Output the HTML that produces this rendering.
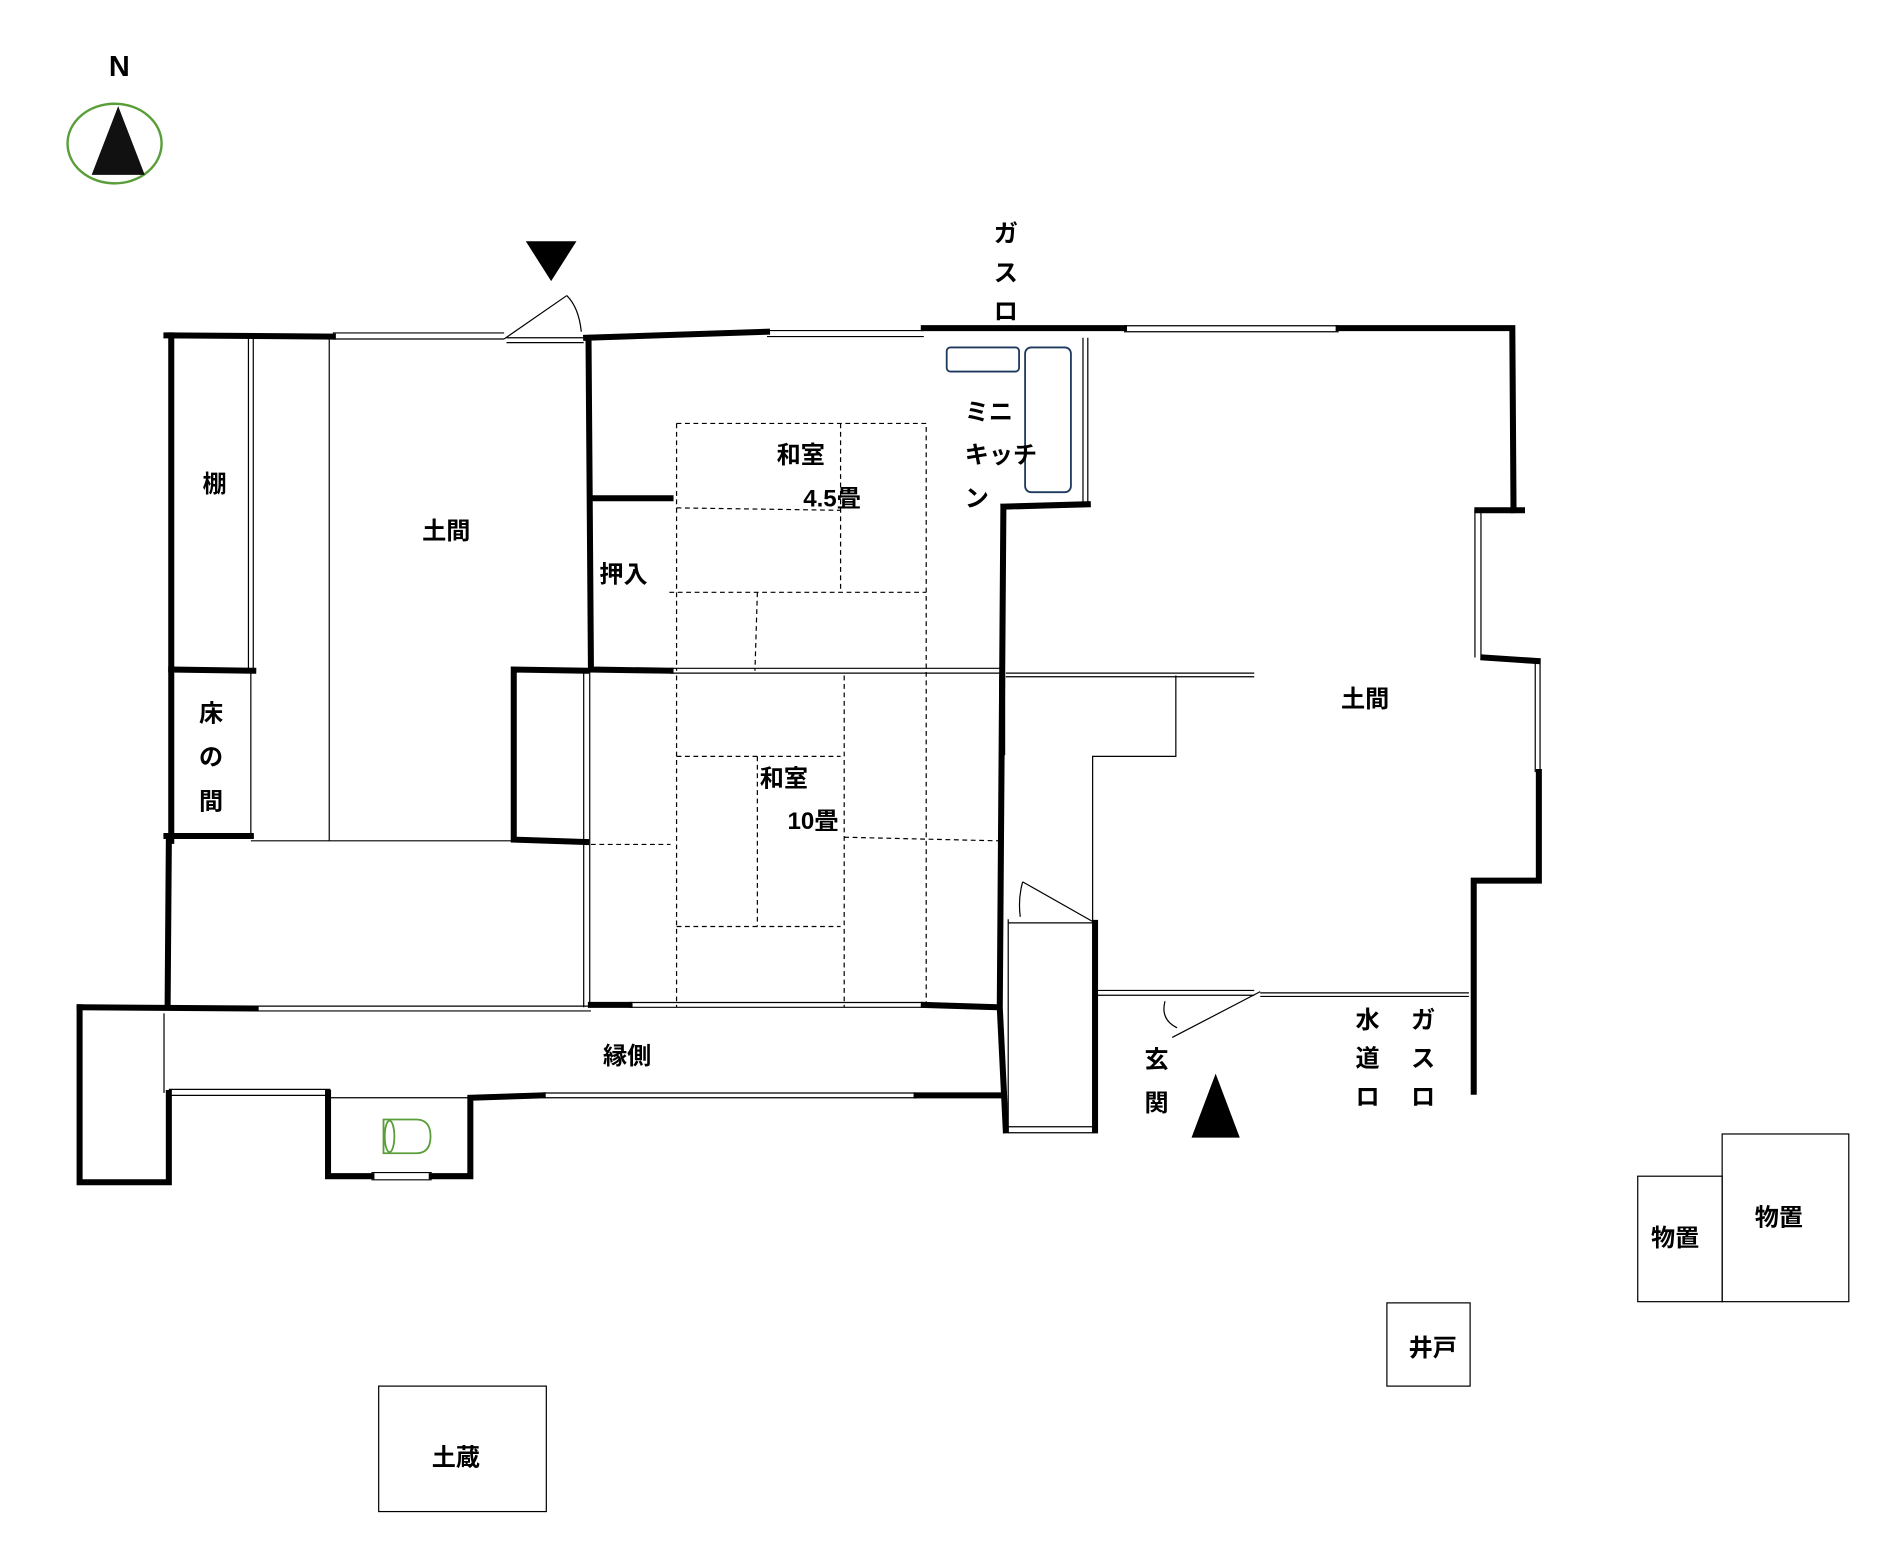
<!DOCTYPE html>
<html><head><meta charset="utf-8"><style>
html,body{margin:0;padding:0;background:#fff;}
svg{display:block;}
text{font-family:"Liberation Sans","Noto Sans CJK JP",sans-serif;font-weight:bold;font-size:20px;fill:#000;}
</style></head><body>
<svg width="1891" height="1555" viewBox="0 0 1568 1289" preserveAspectRatio="none" xmlns="http://www.w3.org/2000/svg">
<rect width="1568" height="1289" fill="#fff"/>
<text x="99" y="63" text-anchor="middle" font-size="24" style="font-size:24px">N</text>
<ellipse cx="95" cy="119" rx="39" ry="33" fill="none" stroke="#5a9e3a" stroke-width="2"/>
<polygon points="76,145 98,88 120,145" fill="#111"/>
<polygon points="436,200 478,200 457,233" fill="#000"/>
<polygon points="988,943 1008,890 1028,943" fill="#000"/>

<g fill="none" stroke="#000" stroke-width="5" stroke-linecap="square">
<path d="M138,278 L276,279"/>
<path d="M486,280 L636,275"/>
<path d="M766,272 L932,272"/>
<path d="M1110,272 L1254,272 L1255,423 M1225,423 L1262,423"/>
<path d="M1230,545 L1275,548"/>
<path d="M1276,640 L1276,730 L1222,730 L1222,905"/>
<path d="M142,278 L142,697 M140,697 L139,832"/>
<path d="M142,555 L210,556 M138,693 L208,693"/>
<path d="M486,556 L426,555 L426,696 L486,698"/>
<path d="M488,282 L490,555 M490,413 L556,413 M490,555 L556,556"/>
<path d="M66,835 L212,836 M490,833 L522,833 M766,833 L828,835"/>
<path d="M832,420 L829,835 L834,937 M832,420 L902,418"/>
<path d="M272,906 L272,975 L308,975 M358,975 L390,975 L390,910 L450,908 M760,908 L832,908"/>
<path d="M140,906 L140,980 L66,980 L66,835"/>
<path d="M908,765 L908,937"/>
</g>

<g fill="none" stroke="#000" stroke-width="1">
<path d="M276,276 L418,276 M276,281 L418,281"/>
<path d="M420,280 L484,280 M420,284 L484,284"/>
<path d="M418,281 L470,245"/>
<path d="M470,245 Q480,255 482,275"/>
<path d="M636,274 L766,274 M636,279 L766,279"/>
<path d="M932,270 L1110,270 M932,275 L1110,275"/>
<path d="M1223,423 L1223,545 M1228,423 L1228,545"/>
<path d="M1273,548 L1273,640 M1277,548 L1277,640"/>
<path d="M206,278 L206,555 M210,278 L210,555"/>
<path d="M208,556 L208,693"/>
<path d="M273,280 L273,697"/>
<path d="M208,697 L486,697"/>
<path d="M484,556 L484,835 M489,556 L489,835"/>
<path d="M212,834 L490,834 M212,838 L490,838"/>
<path d="M522,831 L766,831 M522,835 L766,835"/>
<path d="M898,280 L898,418 M902,280 L902,418"/>
<path d="M829,560 L829,626 M833,560 L833,626"/>
<path d="M556,554 L830,554 M556,558 L830,558"/>
<path d="M140,903 L274,903 M140,908 L274,908"/>
<path d="M274,910 L390,910"/>
<path d="M136,840 L136,906"/>
<path d="M308,972 L358,972 M308,978 L358,978"/>
<path d="M450,906 L760,906 M450,910 L760,910"/>
<path d="M836,765 L908,765 M836,762 L836,937"/>
<path d="M836,934 L906,934 M836,939 L906,939"/>
<path d="M848,731 L908,765 M848,731 Q844,745 846,760"/>
<path d="M834,558 L1040,558 M834,561 L1040,561"/>
<path d="M975,560 L975,627 L906,627 L906,765"/>
<path d="M910,821 L1040,821 M910,825 L1040,825"/>
<path d="M1045,823 L1218,823 M1045,826 L1218,826"/>
<path d="M1045,822 L972,860 M966,830 Q962,845 976,852"/>
<rect x="1358" y="975" width="70" height="104"/>
<rect x="1428" y="940" width="105" height="139"/>
<rect x="1150" y="1080" width="69" height="69"/>
<rect x="314" y="1149" width="139" height="104"/>
</g>

<g fill="none" stroke="#1f3a5f" stroke-width="1.5">
<rect x="785" y="288" width="60" height="20" rx="3"/>
<rect x="850" y="288" width="38" height="120" rx="5"/>
</g>
<g fill="none" stroke="#5a9e3a" stroke-width="1.5">
<path d="M318,928 L345,928 Q357,928 357,942 Q357,956 345,956 L318,956 Z"/>
<ellipse cx="323" cy="942" rx="4" ry="13"/>
</g>

<g fill="none" stroke="#000" stroke-width="1" stroke-dasharray="4,3">
<path d="M561,351 L768,351 L768,835"/>
<path d="M561,351 L561,556 M561,560 L561,835"/>
<path d="M697,351 L697,491"/>
<path d="M561,421 L697,423"/>
<path d="M555,491 L768,491"/>
<path d="M628,491 L626,556"/>
<path d="M700,560 L700,835"/>
<path d="M561,627 L697,627"/>
<path d="M628,627 L628,768"/>
<path d="M490,700 L556,700"/>
<path d="M700,694 L828,697"/>
<path d="M561,768 L697,768"/>
</g>

<text x="834" y="200" text-anchor="middle">ガ</text>
<text x="834" y="233" text-anchor="middle">ス</text>
<text x="834" y="265" text-anchor="middle">ロ</text>
<text x="800" y="348">ミニ</text>
<text x="800" y="384">キッチ</text>
<text x="800" y="420">ン</text>
<text x="644" y="384">和室</text>
<text x="666" y="420">4.5畳</text>
<text x="178" y="408" text-anchor="middle">棚</text>
<text x="350" y="447">土間</text>
<text x="497" y="483">押入</text>
<text x="175" y="598" text-anchor="middle">床</text>
<text x="175" y="634" text-anchor="middle">の</text>
<text x="175" y="671" text-anchor="middle">間</text>
<text x="630" y="652">和室</text>
<text x="653" y="687">10畳</text>
<text x="1112" y="586">土間</text>
<text x="500" y="882">縁側</text>
<text x="959" y="885" text-anchor="middle">玄</text>
<text x="959" y="921" text-anchor="middle">関</text>
<text x="1134" y="852" text-anchor="middle">水</text>
<text x="1134" y="884" text-anchor="middle">道</text>
<text x="1134" y="916" text-anchor="middle">ロ</text>
<text x="1180" y="852" text-anchor="middle">ガ</text>
<text x="1180" y="884" text-anchor="middle">ス</text>
<text x="1180" y="916" text-anchor="middle">ロ</text>
<text x="1369" y="1033">物置</text>
<text x="1455" y="1016">物置</text>
<text x="1168" y="1124">井戸</text>
<text x="358" y="1215">土蔵</text>
</svg>
</body></html>
